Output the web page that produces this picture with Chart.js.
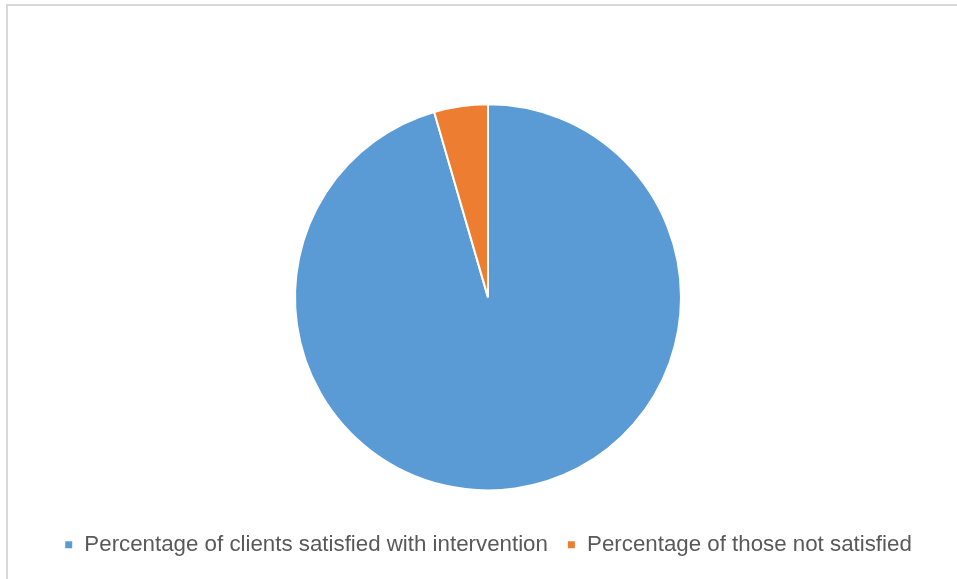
<!DOCTYPE html>
<html>
<head>
<meta charset="utf-8">
<script src="https://cdn.jsdelivr.net/npm/chart.js@4.4.0/dist/chart.umd.min.js"></script>
<style>
  body { margin: 0; background: #fff; }
  #frame {
    position: absolute; left: 6px; top: 4px; width: 960px; height: 580px;
    border-left: 2px solid #d9d9d9; border-top: 2px solid #d9d9d9;
  }
  #pieChart { position: absolute; left: 0; top: 0; }
</style>
</head>
<body>
<div id="frame"></div>
<canvas id="pieChart" width="957" height="579"></canvas>
<script>
const labels = ["Percentage of clients satisfied with intervention", "Percentage of those not satisfied"];
const values = [95.5, 4.5];
const colors = ["#5B9BD5", "#ED7D31"];

const ctx = document.getElementById("pieChart").getContext("2d");

const chart = new Chart(ctx, {
    type: "pie",
    data: {
        labels: labels,
        datasets: [{
            data: values,
            backgroundColor: colors,
            borderColor: "#ffffff",
            borderWidth: 2
        }]
    },
    options: {
        responsive: false,
        animation: false,
        radius: 193,
        layout: {
            padding: { top: 80, bottom: 13, left: 22, right: 3 }
        },
        plugins: {
            tooltip: { enabled: false },
            legend: {
                position: "bottom",
                labels: {
                    boxWidth: 9,
                    boxHeight: 9,
                    padding: 19,
                    color: "#595959",
                    font: { family: "Liberation Sans", size: 22.3 }
                }
            }
        }
    }
});
</script>
</body>
</html>
